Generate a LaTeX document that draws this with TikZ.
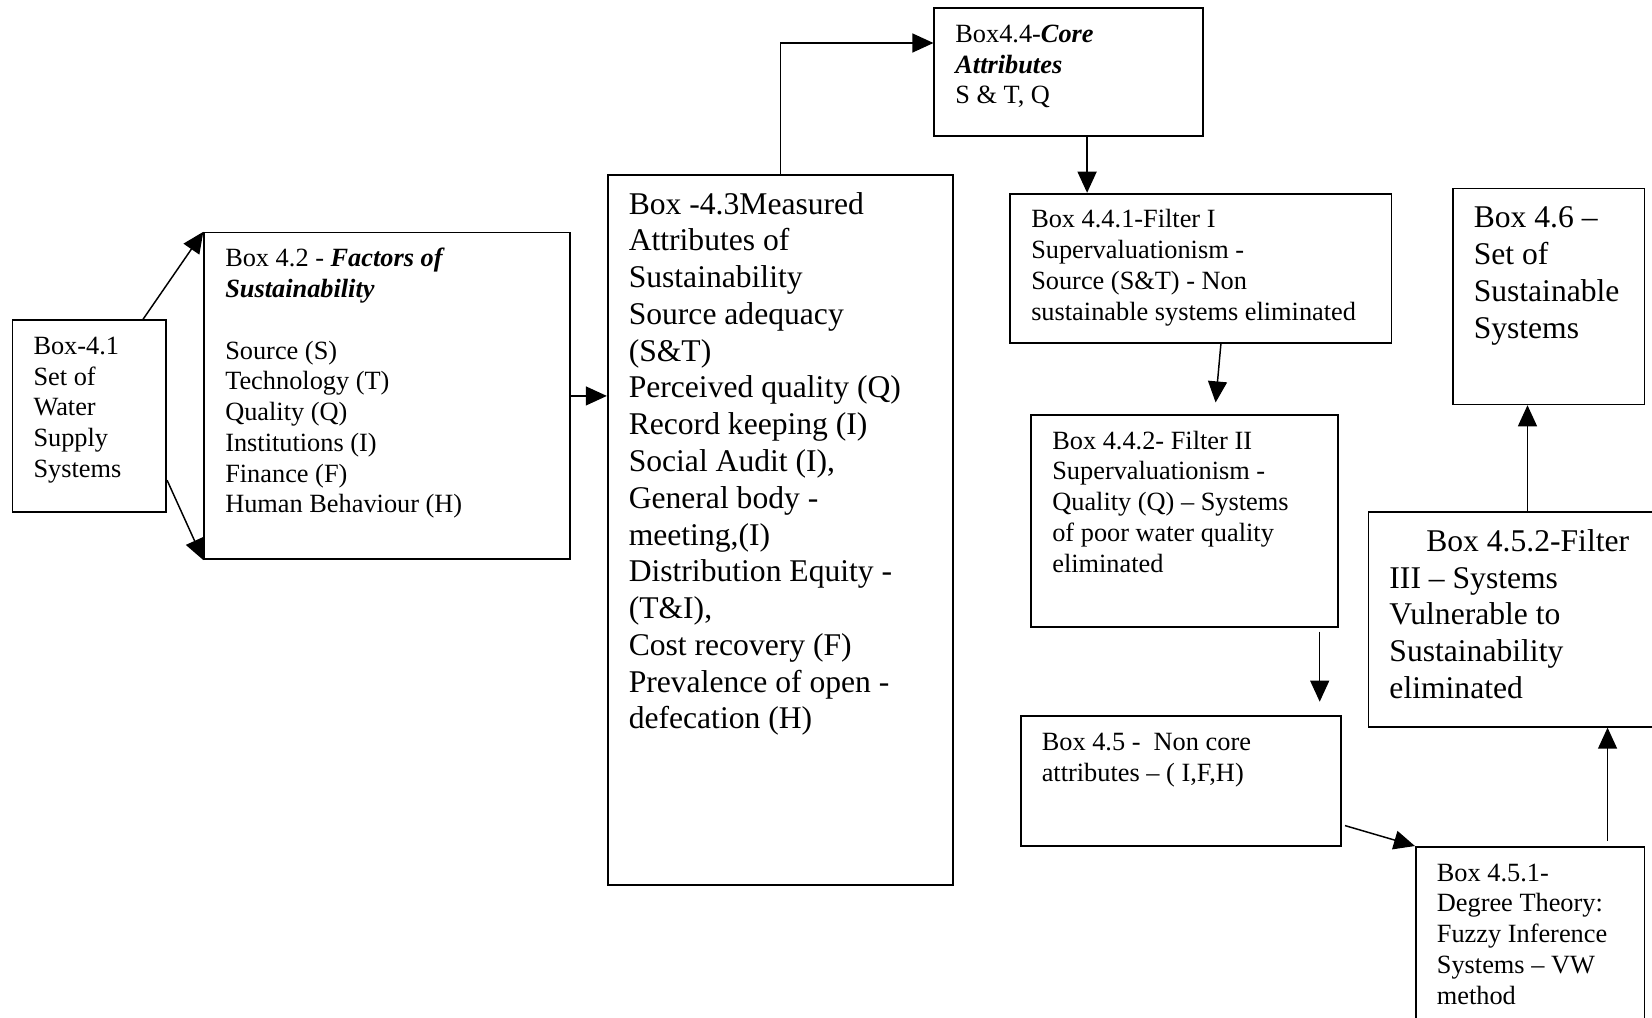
\documentclass[tikz,border=0pt]{standalone}
\usepackage{fontspec}
\setmainfont{Liberation Serif}
\usetikzlibrary{arrows.meta}
\newcommand{\boxtext}[3]{\parbox[t][#2][t]{#1}{\begin{tabular}[t]{@{}l@{}}#3\end{tabular}}}
\tikzstyle{smallbox} =
[rectangle, draw=black, line width=0.8pt, anchor=north west,
inner xsep=10pt, inner ysep=6pt, font=\fontsize{12.5pt}{14.6pt}\selectfont]
\tikzstyle{largebox} =
[smallbox, inner ysep=6.5pt, font=\fontsize{15pt}{17.45pt}\selectfont]
\tikzstyle{line} = [draw, line width=0.7pt, -{Triangle[length=10pt,width=9pt]}]

\begin{document}
\begin{tikzpicture}[x=0.5pt, y=-0.5pt]
  \useasboundingbox (0,0) rectangle (1568,966);
  % left column nodes
  \node [smallbox] (b41) at (11,303)
   {\boxtext{53pt}{79pt}{Box-4.1\\ Set of\\ Water\\ Supply\\ Systems}};
  \node [smallbox] (b42) at (193,220)
   {\boxtext{153.5pt}{143pt}{Box 4.2 - \textbf{\textit{Factors of}}\\
    \textbf{\textit{Sustainability}}\\ \\ Source (S)\\ Technology (T)\\
    Quality (Q)\\ Institutions (I)\\ Finance (F)\\ Human Behaviour (H)}};
  \node [largebox] (b43) at (576,165)
   {\boxtext{144pt}{324pt}{Box -4.3Measured\\ Attributes of\\ Sustainability\\
    Source adequacy\\ (S\&T)\\ Perceived quality (Q)\\ Record keeping (I)\\
    Social Audit (I),\\ General body -\\ meeting,(I)\\ Distribution Equity -\\
    (T\&I),\\ Cost recovery (F)\\ Prevalence of open -\\ defecation (H)}};
  % filter nodes
  \node [smallbox] (b44) at (886,7)
   {\boxtext{107.5pt}{48.5pt}{Box4.4-\textbf{\textit{Core}}\\
    \textbf{\textit{Attributes}}\\ S \& T, Q}};
  \node [smallbox] (b441) at (958,183)
   {\boxtext{161pt}{59pt}{Box 4.4.1-Filter I\\ Supervaluationism -\\
    Source (S\&T) - Non\\ sustainable systems eliminated}};
  \node [smallbox] (b442) at (978,393)
   {\boxtext{125.5pt}{88.5pt}{Box 4.4.2- Filter II\\ Supervaluationism -\\
    Quality (Q) – Systems\\ of poor water quality\\ eliminated}};
  \node [smallbox] (b45) at (968,679)
   {\boxtext{132pt}{49.5pt}{Box 4.5 -~ Non core\\ attributes – ( I,F,H)}};
  \node [smallbox] (b451) at (1343,803)
   {\boxtext{88.5pt}{86.5pt}{Box 4.5.1-\\ Degree Theory:\\ Fuzzy Inference\\
    Systems – VW\\ method}};
  \node [largebox] (b452) at (1298,485)
   {\boxtext{131pt}{89pt}{\hspace*{17.5pt}Box 4.5.2-Filter\\ III – Systems\\
    Vulnerable to\\ Sustainability\\ eliminated}};
  \node [largebox] (b46) at (1378,178)
   {\boxtext{71pt}{89.5pt}{Box 4.6 –\\ Set of\\ Sustainable\\ Systems}};
  % edges
  \path [line] ([xshift=25.5pt]b41.north) -- (b42.north west);
  \path [line] ([yshift=-30.5pt]b41.east) -- (b42.south west);
  \path [line] (b42.east) -- (b42.east -| b43.west);
  \path [line] (b43.north) |- ([yshift=13.75pt]b44.west);
  \path [line] ([xshift=8.75pt]b44.south) -- ([xshift=8.75pt]b44.south |- b441.north);
  \coordinate (e442) at ([xshift=14.75pt,yshift=5.5pt]b442.north);
  \path [line] ([xshift=9.5pt]b441.south) -- (e442);
  \coordinate (s442) at ([xshift=-9pt,yshift=-2pt]b442.south east);
  \coordinate (e45) at ([yshift=6.5pt]b45.north -| s442);
  \path [line] (s442) -- (e45);
  \path [line] ([xshift=1.5pt,yshift=10pt]b45.south east) -- (b451.north west);
  \path [line] ([xshift=36.75pt,yshift=2.5pt]b451.north) -- ([xshift=36.75pt]b451.north |- b452.south);
  \path [line] (b452.north) -- (b452.north |- b46.south);
\end{tikzpicture}
\end{document}
